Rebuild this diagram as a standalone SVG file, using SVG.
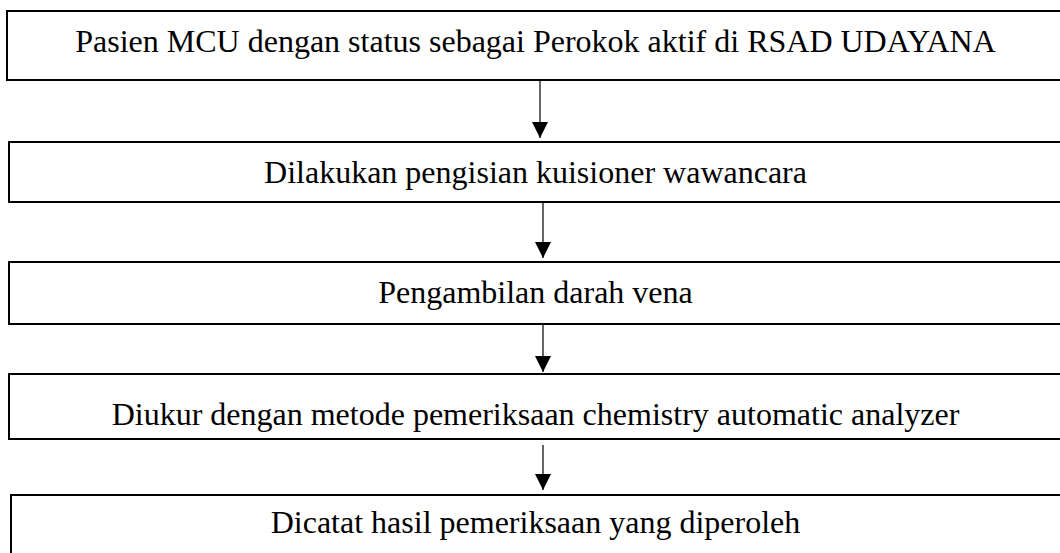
<svg xmlns="http://www.w3.org/2000/svg" width="1060" height="553" viewBox="0 0 1060 553">
<defs>
<style>
.box{fill:#fff;stroke:#000;stroke-width:2}
.lbl{font-family:"Liberation Serif","Times New Roman",serif;font-size:32px;fill:#000;text-anchor:middle}
.conn{stroke:#000;stroke-width:1.2;fill:none;marker-end:url(#ah)}
</style>
<marker id="ah" markerUnits="userSpaceOnUse" markerWidth="16" markerHeight="16" viewBox="0 0 16 16" refX="16" refY="8" orient="auto">
<path d="M0,0 L16,8 L0,16 Z" fill="#000"/>
</marker>
</defs>
<rect width="1060" height="553" fill="#fff"/>
<g id="connectors">
<line class="conn" x1="540" y1="81" x2="540" y2="138"/>
<line class="conn" x1="543" y1="202" x2="543" y2="258"/>
<line class="conn" x1="543" y1="318" x2="543" y2="372"/>
<line class="conn" x1="543" y1="445" x2="543" y2="490"/>
</g>
<g id="n1">
<rect class="box" x="7" y="11" width="1070" height="69"/>
<text class="lbl" x="535.5" y="52">Pasien MCU dengan status sebagai Perokok aktif di RSAD UDAYANA</text>
</g>
<g id="n2">
<rect class="box" x="9" y="142" width="1070" height="60"/>
<text class="lbl" x="535.5" y="183">Dilakukan pengisian kuisioner wawancara</text>
</g>
<g id="n3">
<rect class="box" x="9" y="262" width="1070" height="62"/>
<text class="lbl" x="535.5" y="303">Pengambilan darah vena</text>
</g>
<g id="n4">
<rect class="box" x="9" y="374" width="1070" height="65"/>
<text class="lbl" x="535.5" y="425">Diukur dengan metode pemeriksaan chemistry automatic analyzer</text>
</g>
<g id="n5">
<rect class="box" x="11" y="495" width="1070" height="80"/>
<text class="lbl" x="535.5" y="533">Dicatat hasil pemeriksaan yang diperoleh</text>
</g>
</svg>
